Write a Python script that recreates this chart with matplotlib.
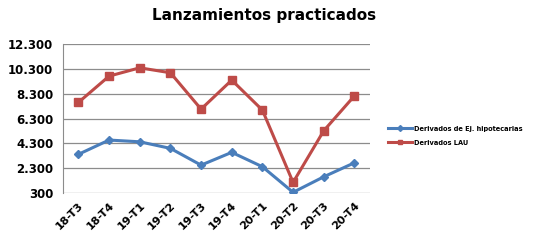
import matplotlib
matplotlib.use("Agg")
import matplotlib.pyplot as plt
import numpy as np

periodos = ["18-T3", "18-T4", "19-T1", "19-T2", "19-T3", "19-T4", "20-T1", "20-T2", "20-T3", "20-T4"]
hipotecarias = [3420, 4570, 4430, 3900, 2550, 3580, 2420, 360, 1610, 2740]
lau = [7600, 9720, 10390, 9990, 7060, 9400, 6980, 1160, 5320, 8130]
yticks = [300, 2300, 4300, 6300, 8300, 10300, 12300]

fig = plt.figure(figsize=(5.39, 2.45), dpi=100)
ax = fig.add_axes([0.117, 0.212, 0.569, 0.608])

x = np.arange(len(periodos))
ax.plot(x, hipotecarias, color="#4A7EBB", lw=2.2, marker="D", ms=4.5,
        label="Derivados de Ej. hipotecarias")
ax.plot(x, lau, color="#BE4B48", lw=2.2, marker="s", ms=6,
        label="Derivados LAU")

ax.set_xlim(-0.5, len(periodos) - 0.5)
ax.set_ylim(300, 12300)
ax.set_yticks(yticks)
ax.set_yticklabels([f"{v:,}".replace(",", ".") for v in yticks],
                   fontsize=8.5, fontweight="bold")
ax.set_xticks(x)
ax.set_xticklabels(periodos, rotation=45, ha="right", rotation_mode="anchor",
                   fontsize=8, fontweight="bold")
ax.tick_params(axis="y", length=0, pad=7)
ax.tick_params(axis="x", length=0, pad=5)
ax.grid(axis="y", color="#8c8c8c", lw=0.9)
ax.set_axisbelow(True)
for s in ["top", "right", "bottom"]:
    ax.spines[s].set_visible(False)
ax.spines["left"].set_color("#8c8c8c")

fig.text(0.49, 0.935, "Lanzamientos practicados", ha="center", va="center",
         fontsize=11, fontweight="bold")

leg = ax.legend(loc="center left", bbox_to_anchor=(1.06, 0.385), frameon=False,
                prop={"size": 4.8, "weight": "bold"}, handlelength=3.6,
                handletextpad=0.3, labelspacing=1.2, borderpad=0, borderaxespad=0)
for h in leg.get_lines():
    h.set_markersize(3)

fig.savefig("out.png", dpi=100)
